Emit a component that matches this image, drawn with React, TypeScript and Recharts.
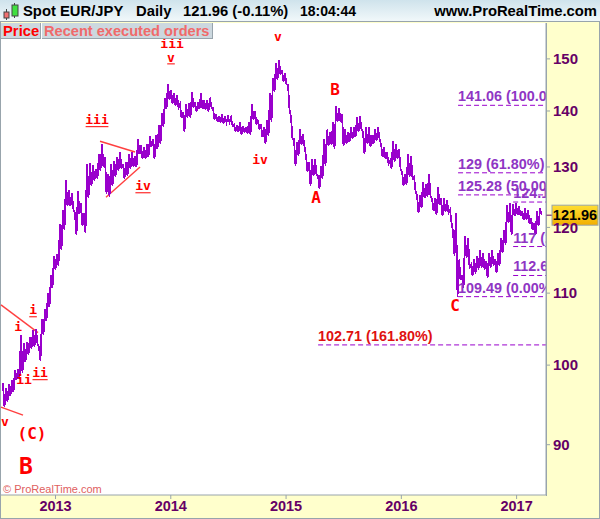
import React from 'react';
import { ComposedChart, Line, XAxis, YAxis, ReferenceLine, ReferenceDot } from 'recharts';

const yearTicks = [2013, 2014, 2015, 2016, 2017];
const priceTicks = [90, 100, 110, 120, 130, 140, 150];
const lastPrice = 121.96;

const firstDate = 2012.544;
const dateStep = 0.02603;

const highs = [
  97.6, 97.0, 97.5, 98.0, 99.3, 99.5, 104.1, 102.9, 103.1, 103.8, 104.8, 104.9, 102.5, 106.3, 107.7, 110.0, 112.6, 115.6, 115.9, 120.5,
  122.8, 127.7, 126.0, 125.5, 122.3, 126.0, 123.9, 122.3, 130.5, 130.7, 130.4, 129.7, 132.2, 134.0, 131.7, 128.8, 130.5, 131.1, 131.7, 132.6,
  130.5, 130.9, 132.2, 132.6, 131.9, 134.9, 133.8, 133.5, 134.0, 135.4, 134.9, 135.6, 137.5, 139.7, 142.5, 145.1, 144.0, 143.4, 143.0, 141.2,
  139.7, 141.2, 141.4, 143.6, 141.7, 141.7, 143.4, 142.1, 142.1, 142.5, 140.6, 139.4, 139.1, 139.5, 138.8, 139.0, 138.8, 137.5, 137.3, 138.0,
  137.3, 137.1, 138.0, 141.2, 139.9, 138.4, 137.5, 137.0, 138.4, 143.4, 146.3, 149.2, 149.8, 147.8, 147.1, 145.0, 138.8, 134.9, 134.3, 136.6,
  135.7, 131.9, 130.9, 131.4, 131.4, 128.5, 130.2, 134.9, 136.6, 136.2, 138.0, 140.9, 140.6, 139.4, 136.6, 136.1, 137.0, 137.1, 138.8, 139.0,
  136.1, 137.0, 137.0, 135.6, 136.6, 137.0, 134.0, 133.5, 132.6, 131.1, 134.5, 134.0, 133.1, 129.2, 128.8, 132.2, 131.9, 128.3, 125.2, 125.2,
  127.5, 127.1, 128.7, 124.7, 124.7, 126.6, 124.7, 124.7, 124.4, 122.8, 119.4, 122.3, 115.0, 112.7, 118.6, 118.3, 114.2, 115.0, 115.6, 116.5,
  116.0, 114.8, 116.0, 116.5, 115.0, 116.0, 118.3, 119.6, 123.6, 123.9, 123.8, 123.9, 123.4, 122.6, 123.1, 122.8, 121.5, 120.7, 122.6, 123.1,
];

const lows = [
  94.6, 95.3, 96.0, 96.5, 98.0, 98.2, 99.0, 100.4, 101.4, 102.2, 102.5, 102.9, 100.6, 104.1, 106.0, 108.0, 110.7, 113.5, 114.1, 116.5,
  119.6, 123.4, 123.4, 122.8, 118.8, 122.1, 120.2, 119.1, 124.7, 126.8, 127.7, 128.0, 129.4, 130.0, 125.5, 125.0, 126.8, 128.3, 129.4, 129.7,
  128.0, 128.5, 129.7, 130.0, 130.0, 132.2, 131.4, 131.4, 131.7, 133.5, 131.4, 133.1, 134.0, 137.1, 140.3, 142.1, 141.4, 141.0, 140.6, 138.8,
  136.2, 138.8, 138.8, 140.6, 139.9, 140.3, 140.3, 140.3, 139.9, 140.6, 138.4, 138.0, 137.9, 137.7, 137.9, 138.0, 137.3, 136.2, 136.2, 135.7,
  136.1, 135.9, 135.7, 138.4, 137.5, 136.6, 135.2, 134.0, 135.4, 138.0, 143.6, 145.9, 146.9, 145.5, 145.0, 140.3, 134.9, 130.2, 132.0, 133.8,
  133.5, 129.2, 126.8, 128.5, 128.7, 126.3, 128.0, 130.2, 133.6, 133.8, 133.1, 137.9, 138.0, 133.6, 134.0, 134.3, 134.9, 135.2, 136.1, 136.6,
  132.2, 134.0, 133.5, 134.0, 134.5, 134.9, 131.7, 131.4, 130.5, 129.7, 130.9, 131.4, 129.7, 126.8, 127.0, 128.3, 128.0, 126.0, 122.3, 123.1,
  124.7, 125.0, 125.0, 122.6, 122.0, 123.6, 121.8, 122.5, 122.3, 120.7, 115.6, 109.5, 111.9, 110.8, 115.3, 113.8, 112.5, 112.9, 113.5, 113.8,
  113.5, 112.3, 113.8, 114.1, 113.0, 114.1, 116.0, 117.3, 120.7, 118.8, 121.8, 122.0, 121.8, 121.2, 121.2, 120.5, 119.6, 118.8, 120.2, 122.0,
];

const priceData = highs.flatMap((high, i) => [
  { date: firstDate + i * dateStep, price: high },
  { date: firstDate + (i + 0.5) * dateStep, price: lows[i] },
]);

const fibValues = [141.06, 129, 125.28, 124.1, 117, 112.6, 109.49, 102.71];
const fibTexts = [
  '141.06 (100.00%)',
  '129 (61.80%)',
  '125.28 (50.00%)',
  '124.1 (38.20%)',
  '117 (23.60%)',
  '112.6 (7.60%)',
  '109.49 (0.00%)',
  '102.71 (161.80%)',
];
const fibStarts = [2016.492, 2016.492, 2016.492, 2016.97, 2016.97, 2016.97, 2016.492, 2015.278];
const fibEnd = 2017.255;

const trendLines = [
  [[2012.527, 108.3], [2012.848, 104.4]],
  [[2012.527, 94.6], [2012.718, 93.6]],
  [[2013.386, 134.5], [2013.69, 132.6]],
  [[2013.438, 124.9], [2013.733, 130]],
];

const waveLabels = [
  { text: 'A', date: 2015.26, price: 124.97 },
  { text: 'B', date: 2015.425, price: 144.0 },
  { text: 'C', date: 2016.467, price: 108.3 },
  { text: '(C)', date: 2012.796, price: 91.4 },
];
const minorLabels = [
  { text: 'v', date: 2012.562, price: 92.8 },
  { text: 'ii', date: 2012.727, price: 98.2 },
  { text: 'i', date: 2012.675, price: 105.3 },
  { text: 'iii', date: 2014.011, price: 153.2 },
  { text: 'v', date: 2014.93, price: 154.6 },
  { text: 'iv', date: 2014.774, price: 131.4 },
];
const underlinedLabels = [
  { text: 'ii', date: 2012.866, price: 99.0 },
  { text: 'i', date: 2012.805, price: 107.6 },
  { text: 'iii', date: 2013.36, price: 138.4 },
  { text: 'iv', date: 2013.759, price: 126.8 },
  { text: 'v', date: 2014.002, price: 150.4 },
];

const SANS = '"Liberation Sans", Arial, sans-serif';
const MONO = '"DejaVu Sans Mono", monospace';
const RED = '#ff0000';
const PURPLE = '#9900cc';
const AXIS_INK = '#660066';
const FRAME = '#98a4ac';

const WaveText = ({ viewBox, text, size, underline }: any) => {
  const x = viewBox.x + viewBox.width / 2;
  const y = viewBox.y + viewBox.height / 2;
  return (
    <g>
      <text x={x} y={y + size * 0.36} textAnchor="middle" fill={RED} fontFamily={MONO} fontWeight="bold" fontSize={size}>
        {text}
      </text>
      {underline && <line x1={x - text.length * 3.8} x2={x + text.length * 3.8} y1={y + 7} y2={y + 7} stroke={RED} strokeWidth={1} />}
    </g>
  );
};

const FibLabel = ({ viewBox, text, color }: any) => (
  <svg x={0} y={0} width={546} height={519} overflow="hidden">
    <text x={viewBox.x} y={viewBox.y - 4} fill={color} fontFamily={SANS} fontWeight="bold" fontSize={14.4}>
      {text}
    </text>
  </svg>
);

const PriceTag = ({ viewBox }: any) => {
  const right = viewBox.x + viewBox.width;
  const y = viewBox.y;
  return (
    <g>
      <line x1={right} x2={right + 6} y1={y} y2={y} stroke={AXIS_INK} strokeWidth={1} />
      <defs>
        <linearGradient id="tagFill" x1="0" y1="0" x2="0" y2="1">
          <stop offset="0" stopColor="#ffdf33" />
          <stop offset="1" stopColor="#f2ae00" />
        </linearGradient>
      </defs>
      <rect x={right + 6} y={y - 10} width={46} height={20} fill="url(#tagFill)" stroke={FRAME} strokeWidth={1} />
      <text x={right + 29} y={y + 5} textAnchor="middle" fill="#000" fontFamily={SANS} fontWeight="bold" fontSize={14.5}>
        {lastPrice}
      </text>
    </g>
  );
};

const App = () => {
  return (
    <div style={{ position: 'absolute', left: 0, top: 0, width: 600, height: 519, background: '#ffffcc', overflow: 'hidden', fontFamily: SANS }}>
      <div style={{ position: 'absolute', left: 1, top: 23, width: 545, height: 472, background: '#fff' }} />
      <div style={{ position: 'absolute', left: 0, top: 0, width: 600, height: 519, boxSizing: 'border-box', border: `1px solid ${FRAME}` }} />
      <div style={{ position: 'absolute', left: 546, top: 23, width: 1, height: 473, background: FRAME }} />

      <div style={{ position: 'absolute', left: 0, top: 0 }}>
        <ComposedChart width={600} height={519} data={priceData} margin={{ top: 23, right: 0, bottom: 0, left: 1 }}>
          <XAxis
            dataKey="date"
            type="number"
            domain={[2012.527, 2017.255]}
            allowDataOverflow
            ticks={yearTicks}
            height={24}
            interval={0}
            tickSize={4}
            tickMargin={2}
            stroke={FRAME}
            tick={{ fill: AXIS_INK, fontFamily: SANS, fontWeight: 'bold', fontSize: 14.5 }}
          />
          <YAxis
            orientation="right"
            scale="log"
            domain={[84.2, 157.3]}
            allowDataOverflow
            ticks={priceTicks}
            interval={0}
            width={54}
            tickSize={4}
            tickMargin={3}
            stroke={FRAME}
            tick={{ fill: AXIS_INK, fontFamily: SANS, fontWeight: 'bold', fontSize: 15 }}
          />
          {trendLines.map((seg, i) => (
            <ReferenceLine
              key={`t${i}`}
              segment={[{ x: seg[0][0], y: seg[0][1] }, { x: seg[1][0], y: seg[1][1] }]}
              stroke="#ff4040"
              strokeWidth={1.4}
            />
          ))}
          <Line dataKey="price" type="linear" stroke={PURPLE} strokeWidth={1.8} strokeLinejoin="miter" shapeRendering="crispEdges" dot={false} isAnimationActive={false} />
          {fibValues.map((value, i) => (
            <ReferenceLine
              key={`f${i}`}
              segment={[{ x: fibStarts[i], y: value }, { x: fibEnd, y: value }]}
              stroke={PURPLE}
              strokeWidth={1}
              strokeDasharray="5 3"
              label={<FibLabel text={fibTexts[i]} color={value === 102.71 ? '#e01010' : '#8f35c4'} />}
            />
          ))}
          {waveLabels.map((w, i) => (
            <ReferenceDot key={`w${i}`} x={w.date} y={w.price} r={0} stroke="none" label={<WaveText text={w.text} size={16} />} />
          ))}
          {minorLabels.map((w, i) => (
            <ReferenceDot key={`m${i}`} x={w.date} y={w.price} r={0} stroke="none" label={<WaveText text={w.text} size={13} />} />
          ))}
          {underlinedLabels.map((w, i) => (
            <ReferenceDot key={`u${i}`} x={w.date} y={w.price} r={0} stroke="none" label={<WaveText text={w.text} size={13} underline />} />
          ))}
          <ReferenceLine y={lastPrice} stroke="none" label={<PriceTag />} />
        </ComposedChart>
      </div>

      <div style={{ position: 'absolute', left: 0, top: 0, width: 600, height: 22, boxSizing: 'border-box', background: 'linear-gradient(#cfe3ec, #f1f8fa)', borderBottom: `1px solid ${FRAME}`, fontWeight: 'bold', fontSize: 14.8, lineHeight: '22px', color: '#000', whiteSpace: 'pre' }}>
        <svg width={18} height={20} style={{ position: 'absolute', left: 2, top: 2 }}>
          <line x1={4.5} x2={4.5} y1={7} y2={18} stroke="#444" />
          <rect x={2} y={10} width={5} height={6} fill="#f07070" stroke="#444" />
          <line x1={12.5} x2={12.5} y1={1} y2={16} stroke="#444" />
          <rect x={10} y={3} width={6} height={11} fill="#40e040" stroke="#444" />
        </svg>
        <span style={{ position: 'absolute', left: 23 }}>Spot EUR/JPY</span>
        <span style={{ position: 'absolute', left: 136 }}>Daily</span>
        <span style={{ position: 'absolute', left: 183 }}>121.96 (-0.11%)</span>
        <span style={{ position: 'absolute', left: 300, fontSize: 14 }}>18:04:44</span>
        <span style={{ position: 'absolute', right: 3 }}>www.ProRealTime.com</span>
      </div>

      <div style={{ position: 'absolute', left: 1, top: 23, width: 40, height: 16, background: '#ccd8df', borderRight: `1px solid ${FRAME}`, borderBottom: `1px solid ${FRAME}`, color: RED, fontWeight: 'bold', fontSize: 14.8, lineHeight: '16px', paddingLeft: 2, boxSizing: 'border-box' }}>
        Price
      </div>
      <div style={{ position: 'absolute', left: 42, top: 23, width: 171, height: 16, background: '#ccd8df', borderRight: `1px solid ${FRAME}`, borderBottom: `1px solid ${FRAME}`, color: '#f06a6a', fontWeight: 'bold', fontSize: 14.6, lineHeight: '16px', paddingLeft: 2, boxSizing: 'border-box', whiteSpace: 'pre' }}>
        Recent executed orders
      </div>

      <div style={{ position: 'absolute', left: 19, top: 452, color: RED, fontWeight: 'bold', fontSize: 23, lineHeight: '28px', fontFamily: MONO }}>B</div>
      <div style={{ position: 'absolute', left: 3, top: 482, color: '#e06060', fontSize: 11, lineHeight: '14px', whiteSpace: 'pre' }}>© ProRealTime.com</div>
    </div>
  );
};

export default App;
